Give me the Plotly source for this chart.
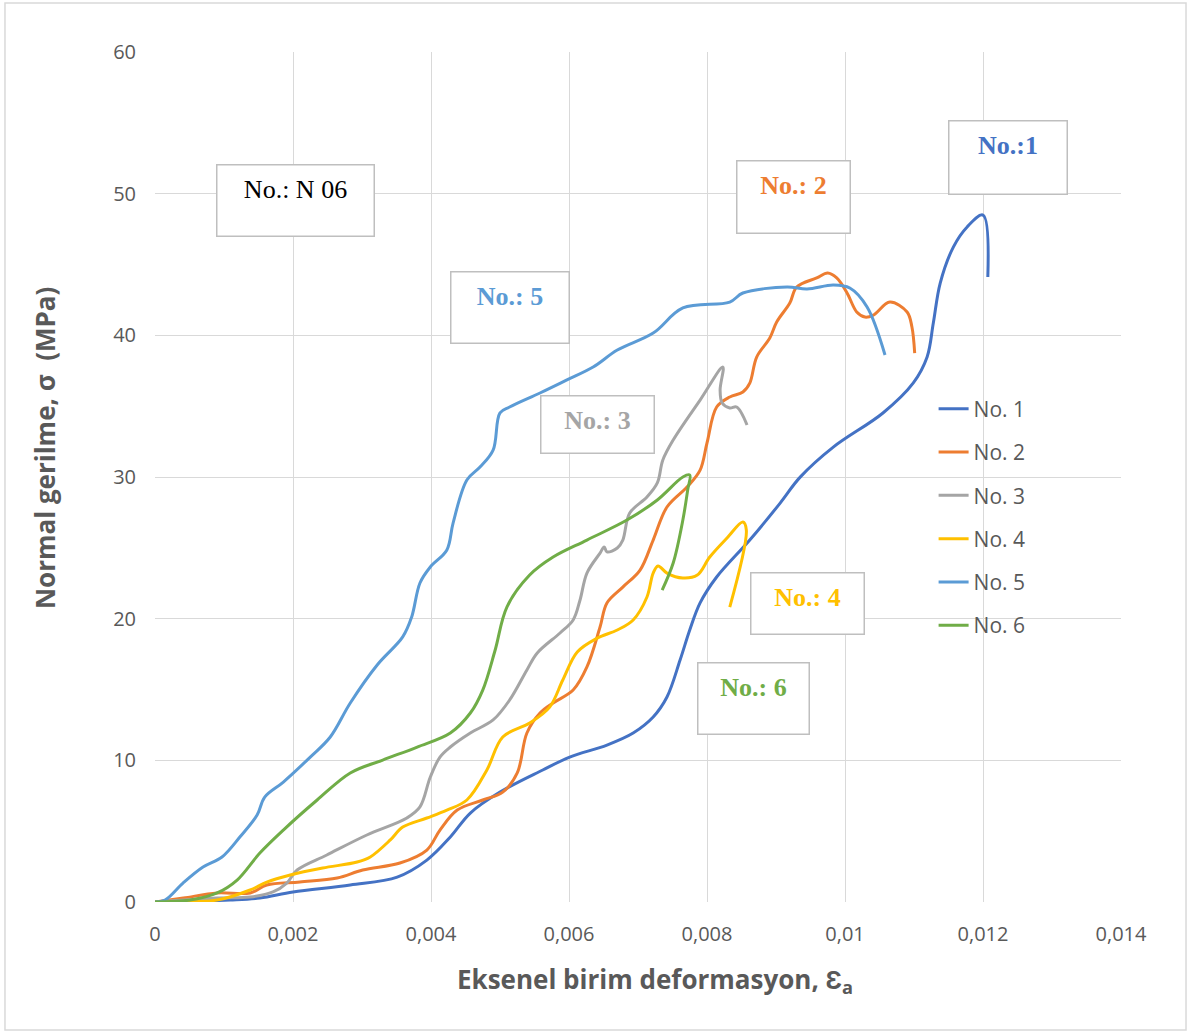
import plotly.graph_objects as go

# ---- data (axial strain, normal stress MPa) ----
no1_x = [0, 0.00065, 0.00109, 0.00152, 0.00200, 0.00283, 0.00351, 0.00394, 0.00428, 0.00457,
         0.00500, 0.00562, 0.00601, 0.00655, 0.00693, 0.00722, 0.00742, 0.00761, 0.00775, 0.00790,
         0.00814, 0.00862, 0.00906, 0.00935, 0.00983, 0.01055, 0.01099, 0.01119, 0.01128, 0.01138,
         0.01157, 0.01177, 0.01200, 0.01207]
no1_y = [0, 0.07, 0.14, 0.28, 0.71, 1.20, 1.76, 2.96, 4.59, 6.28,
         7.76, 9.32, 10.23, 11.08, 11.93, 13.06, 14.47, 17.08, 19.20, 21.11,
         22.94, 25.55, 28.16, 29.99, 32.11, 34.52, 36.64, 38.47, 40.87, 43.69,
         46.23, 47.65, 48.49, 44.12]

no2_x = [0, 0.00041, 0.00090, 0.00138, 0.00162, 0.00210, 0.00264, 0.00301, 0.00355, 0.00394,
         0.00413, 0.00438, 0.00475, 0.00504, 0.00525, 0.00539, 0.00558, 0.00577, 0.00606, 0.00626,
         0.00645, 0.00655, 0.00678, 0.00703, 0.00722, 0.00742, 0.00771, 0.00790, 0.00800, 0.00814,
         0.00833, 0.00852, 0.00862, 0.00872, 0.00891, 0.00901, 0.00920, 0.00930, 0.00959, 0.00975,
         0.00988, 0.01003, 0.01017, 0.01029, 0.01041, 0.01065, 0.01090, 0.01097, 0.01101]
no2_y = [0, 0.28, 0.64, 0.64, 1.20, 1.41, 1.69, 2.26, 2.75, 3.67,
         5.08, 6.49, 7.20, 7.76, 9.11, 11.93, 13.34, 14.05, 14.96, 16.59,
         19.41, 21.11, 22.23, 23.43, 25.55, 27.88, 29.29, 30.49, 32.40, 34.94,
         35.65, 36.00, 36.63, 38.47, 39.81, 40.94, 42.28, 43.41, 44.05, 44.40,
         44.05, 42.99, 41.65, 41.29, 41.43, 42.35, 41.65, 40.59, 38.75]

no3_x = [0, 0.00090, 0.00138, 0.00171, 0.00191, 0.00206, 0.00249, 0.00307, 0.00365, 0.00384,
         0.00399, 0.00413, 0.00428, 0.00457, 0.00490, 0.00514, 0.00539, 0.00554, 0.00587, 0.00606,
         0.00616, 0.00626, 0.00645, 0.00651, 0.00655, 0.00670, 0.00678, 0.00688, 0.00713, 0.00728,
         0.00736, 0.00751, 0.00790, 0.00823, 0.00819, 0.00822, 0.00833, 0.00843, 0.00858]
no3_y = [0, 0.28, 0.35, 0.71, 1.34, 2.26, 3.32, 4.73, 5.93, 6.71,
         8.82, 10.23, 10.94, 11.93, 12.85, 14.26, 16.38, 17.58, 18.99, 19.91,
         21.32, 23.22, 24.63, 25.06, 24.71, 24.99, 25.55, 27.46, 28.59, 29.58,
         31.20, 32.61, 35.43, 37.76, 36.14, 35.22, 34.87, 34.94, 33.67]

no4_x = [0, 0.00090, 0.00138, 0.00162, 0.00196, 0.00243, 0.00293, 0.00312, 0.00341, 0.00359,
         0.00394, 0.00423, 0.00452, 0.00481, 0.00504, 0.00543, 0.00572, 0.00591, 0.00612, 0.00641,
         0.00670, 0.00693, 0.00713, 0.00722, 0.00729, 0.00742, 0.00765, 0.00786, 0.00804, 0.00829,
         0.00852, 0.00857, 0.00833]
no4_y = [0, 0.14, 0.85, 1.41, 1.91, 2.40, 2.82, 3.18, 4.38, 5.29,
         5.93, 6.49, 7.20, 9.32, 11.65, 12.64, 13.76, 15.67, 17.65, 18.63,
         19.20, 19.91, 21.53, 23.22, 23.72, 23.22, 22.87, 23.08, 24.35, 25.69,
         26.82, 26.26, 20.82]

no5_x = [0, 0.000145, 0.000406, 0.000696, 0.000971, 0.00123, 0.00148, 0.00159, 0.00186, 0.00225,
         0.00254, 0.00283, 0.00322, 0.00359, 0.00372, 0.00384, 0.00399, 0.00423, 0.00432, 0.00452,
         0.00471, 0.00490, 0.00500, 0.00514, 0.00558, 0.00597, 0.00635, 0.00670, 0.00722, 0.00765,
         0.00833, 0.00852, 0.00916, 0.00945, 0.00983, 0.01007, 0.01032, 0.01058]
no5_y = [0, 0.14, 1.34, 2.47, 3.18, 4.59, 6.14, 7.41, 8.47, 10.23,
         11.65, 14.05, 16.73, 18.71, 20.12, 22.52, 23.65, 24.85, 26.75, 29.79,
         30.70, 31.90, 34.52, 34.94, 35.93, 36.85, 37.76, 38.96, 40.16, 41.93,
         42.35, 42.99, 43.41, 43.27, 43.55, 43.34, 42.00, 38.61]

no6_x = [0, 0.00051, 0.00090, 0.00119, 0.00152, 0.00186, 0.00235, 0.00283, 0.00330, 0.00380,
         0.00428, 0.00457, 0.00475, 0.00493, 0.00510, 0.00543, 0.00577, 0.00626, 0.00684, 0.00728,
         0.00765, 0.00775, 0.00772, 0.00765, 0.00751, 0.00735]
no6_y = [0, 0.14, 0.64, 1.55, 3.46, 5.08, 7.20, 9.11, 10.02, 10.94,
         11.93, 13.34, 14.96, 17.79, 20.82, 23.08, 24.35, 25.55, 26.96, 28.38,
         30.00, 30.14, 29.08, 26.96, 23.93, 22.02]

series_names = ["No. 1", "No. 2", "No. 3", "No. 4", "No. 5", "No. 6"]
series_x = [no1_x, no2_x, no3_x, no4_x, no5_x, no6_x]
series_y = [no1_y, no2_y, no3_y, no4_y, no5_y, no6_y]
colors = ["#4472C4", "#ED7D31", "#A5A5A5", "#FFC000", "#5B9BD5", "#70AD47"]

x_tickvals = [0, 0.002, 0.004, 0.006, 0.008, 0.010, 0.012, 0.014]
x_ticktext = ["0", "0,002", "0,004", "0,006", "0,008", "0,01", "0,012", "0,014"]
y_tickvals = [0, 10, 20, 30, 40, 50, 60]

x_title = "<b>Eksenel birim deformasyon, Ɛ<sub>a</sub></b>"
y_title = "<b>Normal gerilme, σ  (MPa)</b>"

# label boxes: text, x-center, y-center (data units), box width/height (px), colour, bold
label_text = ["No.: N 06", "No.: 5", "No.: 3", "No.: 2", "No.:1", "No.: 4", "No.: 6"]
label_x = [0.00204, 0.00514, 0.00642, 0.00926, 0.01236, 0.00945, 0.00867]
label_y = [49.55, 41.93, 33.74, 49.73, 52.52, 21.1, 14.4]
label_w = [156, 117, 112, 112, 117, 112, 110]
label_h = [70, 70, 56, 71, 72, 60, 70]
label_color = ["#000000", "#5B9BD5", "#A5A5A5", "#ED7D31", "#4472C4", "#FFC000", "#70AD47"]
label_bold = [False, True, True, True, True, True, True]

fig = go.Figure()
for i, (name, xs, ys, c) in enumerate(zip(series_names, series_x, series_y, colors)):
    fig.add_trace(go.Scatter(
        x=xs, y=ys, name=name, mode="lines",
        line=dict(color=c, width=3, shape="spline", smoothing=1.0),
        legendgroup=name,
    ))

pad = 9
for t, x, y, w, h, c, b in zip(label_text, label_x, label_y, label_w, label_h, label_color, label_bold):
    fig.add_annotation(
        x=x, y=y, xref="x", yref="y", showarrow=False,
        text=f"<b>{t}</b>" if b else t,
        font=dict(family="Liberation Serif, Times New Roman, serif", size=26, color=c),
        width=w - 2 * pad, height=h - 2 * pad, borderpad=pad,
        valign="top", align="center",
        bordercolor="#BFBFBF", borderwidth=1.5, bgcolor="white",
    )

# axis titles placed like the reference
fig.add_annotation(
    x=0.518, y=-0.0918, xref="paper", yref="paper", showarrow=False,
    xanchor="center", yanchor="middle",
    text=x_title, font=dict(size=26, color="#595959"),
)
fig.add_annotation(
    x=-0.1139, y=0.534, xref="paper", yref="paper", showarrow=False,
    xanchor="center", yanchor="middle", textangle=-90,
    text=y_title, font=dict(size=26, color="#595959"),
)

# outer chart border
fig.add_shape(type="rect", xref="paper", yref="paper",
              x0=-0.1553, x1=1.0673, y0=-0.1506, y1=1.0576,
              line=dict(color="#D9D9D9", width=1.5), layer="below")

fig.update_layout(
    width=1191, height=1034,
    margin=dict(l=155, r=70, t=52, b=132),
    paper_bgcolor="white", plot_bgcolor="white",
    font=dict(family="Open Sans, sans-serif", color="#595959"),
    showlegend=True,
    legend=dict(
        x=0.806, y=0.604, xanchor="left", yanchor="top",
        bgcolor="rgba(0,0,0,0)", font=dict(size=21, color="#595959"),
        tracegroupgap=13,
    ),
    xaxis=dict(
        range=[0, 0.014], tickvals=x_tickvals, ticktext=x_ticktext,
        showgrid=True, gridcolor="#D9D9D9", gridwidth=1.3,
        zeroline=False, showline=False, ticks="",
        tickfont=dict(size=20, color="#595959"),
        ticklabelstandoff=18,
    ),
    yaxis=dict(
        range=[0, 60], tickvals=y_tickvals,
        showgrid=True, gridcolor="#D9D9D9", gridwidth=1.3,
        zeroline=False, showline=False, ticks="",
        tickfont=dict(size=20, color="#595959"),
        ticklabelstandoff=18,
    ),
)

fig.write_html("out.html")
